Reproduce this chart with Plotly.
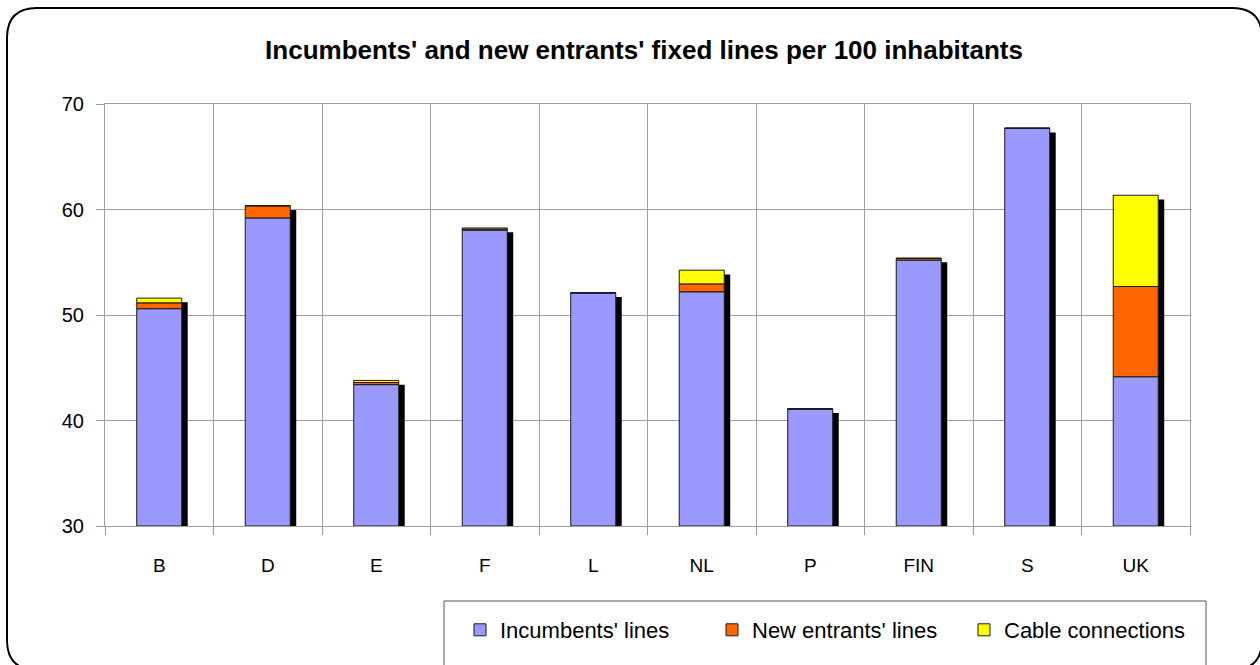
import plotly.graph_objects as go

categories = ["B", "D", "E", "F", "L", "NL", "P", "FIN", "S", "UK"]
incumbents = [50.6, 59.2, 43.4, 58.05, 52.1, 52.2, 41.1, 55.2, 67.7, 44.15]
new_entrants = [0.55, 1.15, 0.2, 0.1, 0.0, 0.75, 0.0, 0.15, 0.0, 8.55]
cable = [0.45, 0.0, 0.2, 0.1, 0.0, 1.3, 0.0, 0.05, 0.0, 8.65]
y_ticks = [30, 40, 50, 60, 70]

FONT = "Liberation Sans, Arial, sans-serif"

# plot area geometry (px)
W, H = 1260, 665
L, R, T, B = 105, 70, 104, 139
PW, PH = W - L - R, H - T - B


def px(x):
    return (x - L) / PW


def py(y):
    return (H - B - y) / PH


totals = [a + b + c for a, b, c in zip(incumbents, new_entrants, cable)]
base_new = incumbents
base_cable = [a + b for a, b in zip(incumbents, new_entrants)]

bw = 0.415
shift = 0.055
shadow_drop = 0.4

fig = go.Figure()
fig.add_trace(go.Bar(
    x=categories, y=[t - shadow_drop - 30 for t in totals], base=30,
    width=bw, offset=-bw / 2 + shift,
    marker=dict(color="black", line=dict(width=0)),
    showlegend=False, hoverinfo="skip",
))
fig.add_trace(go.Bar(
    x=categories, y=[v - 30 for v in incumbents], base=30,
    width=bw, offset=-bw / 2, name="Incumbents' lines",
    marker=dict(color="#9999FF", line=dict(color="#1a1a1a", width=1)),
))
fig.add_trace(go.Bar(
    x=categories, y=new_entrants, base=base_new,
    width=bw, offset=-bw / 2, name="New entrants' lines",
    marker=dict(color="#FF6600", line=dict(color="#1a1a1a", width=1)),
))
fig.add_trace(go.Bar(
    x=categories, y=cable, base=base_cable,
    width=bw, offset=-bw / 2, name="Cable connections",
    marker=dict(color="#FFFF00", line=dict(color="#1a1a1a", width=1)),
))

# rounded chart border
bl, bt, br, bb, rad = 7, 8, 1262, 670, 30
path = (
    f"M {px(bl)},{py(bt + rad)} "
    f"Q {px(bl)},{py(bt)} {px(bl + rad)},{py(bt)} "
    f"L {px(br - rad)},{py(bt)} "
    f"Q {px(br)},{py(bt)} {px(br)},{py(bt + rad)} "
    f"L {px(br)},{py(bb - rad)} "
    f"Q {px(br)},{py(bb)} {px(br - rad)},{py(bb)} "
    f"L {px(bl + rad)},{py(bb)} "
    f"Q {px(bl)},{py(bb)} {px(bl)},{py(bb - rad)} Z"
)
shapes = [
    dict(type="path", xref="paper", yref="paper", path=path,
         line=dict(color="black", width=2), layer="above"),
    dict(type="rect", xref="paper", yref="paper",
         x0=px(444), x1=px(1206), y0=py(601), y1=py(690),
         line=dict(color="#555555", width=1), fillcolor="rgba(0,0,0,0)"),
]

fig.update_layout(
    width=W, height=H,
    margin=dict(l=L, r=R, t=T, b=B),
    barmode="overlay",
    paper_bgcolor="white", plot_bgcolor="white",
    font=dict(family=FONT, color="black", size=18),
    title=dict(
        text="<b>Incumbents' and new entrants' fixed lines per 100 inhabitants</b>",
        x=644 / W, xanchor="center", y=1 - 50 / H, yanchor="middle",
        font=dict(family=FONT, size=26, color="black"),
    ),
    xaxis=dict(
        type="category", tickson="boundaries", ticks="outside", ticklen=8,
        tickcolor="#999999", showgrid=True, gridcolor="#a0a0a0", gridwidth=1,
        showline=True, linecolor="#a0a0a0", mirror=True,
        tickfont=dict(family=FONT, size=19), ticklabelstandoff=22,
    ),
    yaxis=dict(
        range=[30, 70], tickvals=y_ticks, ticks="outside", ticklen=8,
        tickcolor="#999999", showgrid=True, gridcolor="#a0a0a0", gridwidth=1,
        showline=True, linecolor="#a0a0a0", mirror=True, zeroline=False,
        tickfont=dict(family=FONT, size=20), ticklabelstandoff=8,
    ),
    legend=dict(
        orientation="h", x=px(460), xanchor="left", y=py(630), yanchor="middle",
        font=dict(family=FONT, size=22), bgcolor="rgba(0,0,0,0)",
        entrywidth=207, entrywidthmode="pixels", traceorder="normal",
    ),
    shapes=shapes,
)

fig.write_html(
    "out.html",
    config={"displayModeBar": False},
    post_script="document.body.style.margin='0px';document.body.style.overflow='hidden';",
)
